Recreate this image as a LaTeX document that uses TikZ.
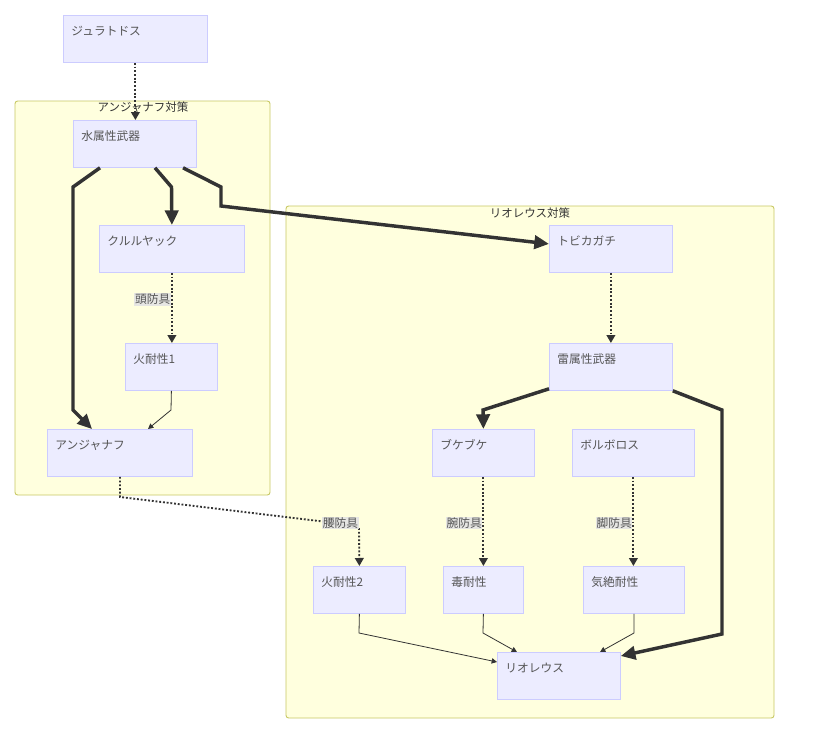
\documentclass[tikz,border=0pt]{standalone}
\usepackage{fontspec}
\newfontfamily\jp{Noto Sans CJK JP}
\usetikzlibrary{arrows.meta,calc}
\definecolor{nodefill}{HTML}{ECECFF}
\definecolor{nodeline}{HTML}{CCCCFF}
\definecolor{clfill}{HTML}{FFFFDE}
\definecolor{clline}{HTML}{C8C864}
\definecolor{edge}{HTML}{333333}
\definecolor{txt}{HTML}{555555}
\definecolor{lblbg}{HTML}{E4E4E4}
\tikzset{
  box/.style={draw=nodeline, fill=nodefill, line width=0.6pt, anchor=north west,
    inner xsep=6pt, inner ysep=0pt, text height=15pt, text depth=20.25pt,
    align=left, font=\jp\fontsize{8.8pt}{11pt}\selectfont, text=txt},
  cluster/.style={draw=clline, fill=clfill, line width=0.7pt, rounded corners=2pt},
  cltitle/.style={font=\jp\fontsize{8.6pt}{11pt}\selectfont, text=edge, inner sep=0pt},
  thickedge/.style={draw=edge, line width=2.6pt, -{Triangle[length=11pt,width=10pt]}},
  thinedge/.style={draw=edge, line width=0.6pt, -{Triangle[length=4pt,width=4pt]}},
  dotedge/.style={draw=edge, line width=1.4pt, dash pattern=on 1.4pt off 1.4pt, -{Triangle[length=6pt,width=6.5pt]}},
  elabel/.style={fill=lblbg, fill opacity=0.9, text opacity=1, inner sep=0.5pt, anchor=east,
    font=\jp\fontsize{8.8pt}{11pt}\selectfont, text=txt},
}
\begin{document}
\begin{tikzpicture}[x=0.75pt,y=-0.75pt]
\useasboundingbox (0,0) rectangle (815,750);
\fill[white] (0,0) rectangle (815,750);
% clusters
\draw[cluster] (15,101) rectangle (270,495);
\node[cltitle] (t1) at (143,107) {アンジャナフ対策};
\draw[cluster] (286,206) rectangle (774,718);
\node[cltitle] (t2) at (530,213) {リオレウス対策};
% nodes
\node[box, text width=96pt] (jura) at (63,15) {ジュラトドス};
\node[box, text width=80.25pt] (mizu) at (73,120) {水属性武器};
\node[box, text width=96.75pt] (kuru) at (99,225) {クルルヤック};
\node[box, text width=57pt] (hi1) at (125,343) {火耐性1};
\node[box, text width=96.75pt] (anja) at (47,429) {アンジャナフ};
\node[box, text width=80.25pt] (tobi) at (549,225) {トビカガチ};
\node[box, text width=80.25pt] (kami) at (549,343) {雷属性武器};
\node[box, text width=64.5pt] (buke) at (432,429) {ブケブケ};
\node[box, text width=79.5pt] (boru) at (572,429) {ボルボロス};
\node[box, text width=57pt] (hi2) at (313,566) {火耐性2};
\node[box, text width=48pt] (doku) at (443,566) {毒耐性};
\node[box, text width=63.75pt] (kize) at (583,566) {気絶耐性};
\node[box, text width=80.25pt] (rio) at (497,652) {リオレウス};
% edges
\draw[dotedge] (jura.south) -- (jura.south |- mizu.north);
\draw[thickedge] ($(mizu.south west)+(27,0)$) -- (73,187) -- (73,410) -- ($(anja.north west)+(45,0)$);
\draw[thickedge] ($(mizu.south west)+(82,0)$) -- (171.5,187) -- (kuru.north);
\draw[thickedge] ($(mizu.south west)+(110,0)$) -- (221,187) -- (221,206) -- ($(tobi.west)+(0,-5)$);
\draw[dotedge] (kuru.south) -- node[elabel, pos=0.38] (l1) {頭防具} (kuru.south |- hi1.north);
\draw[thinedge] (hi1.south) -- (171,410) -- ($(anja.north west)+(101,0)$);
\draw[dotedge] ($(anja.south west)+(73,0)$) -- (120,497) -- (327,522) -- (359,528) -- (hi2.north);
\node[elabel] (l2) at (359,523) {腰防具};
\draw[dotedge] (tobi.south) -- (kami.north);
\draw[thickedge] ($(kami.south west)+(0,-2)$) -- (483,410) -- (buke.north);
\draw[thickedge] (kami.south east) -- (722,410) -- (722,634) -- ($(rio.north east)+(0,4)$);
\draw[dotedge] (buke.south) -- node[elabel, pos=0.52] (l3) {腕防具} (buke.south |- doku.north);
\draw[dotedge] (boru.south) -- node[elabel, pos=0.52] (l4) {脚防具} (boru.south |- kize.north);
\draw[thinedge] (hi2.south) -- (359,633) -- ($(rio.north west)+(0,10)$);
\draw[thinedge] (doku.south) -- (483,633) -- ($(rio.north west)+(20,0)$);
\draw[thinedge] (kize.south) -- (634,633) -- ($(rio.north west)+(103,0)$);
\end{tikzpicture}
\end{document}
